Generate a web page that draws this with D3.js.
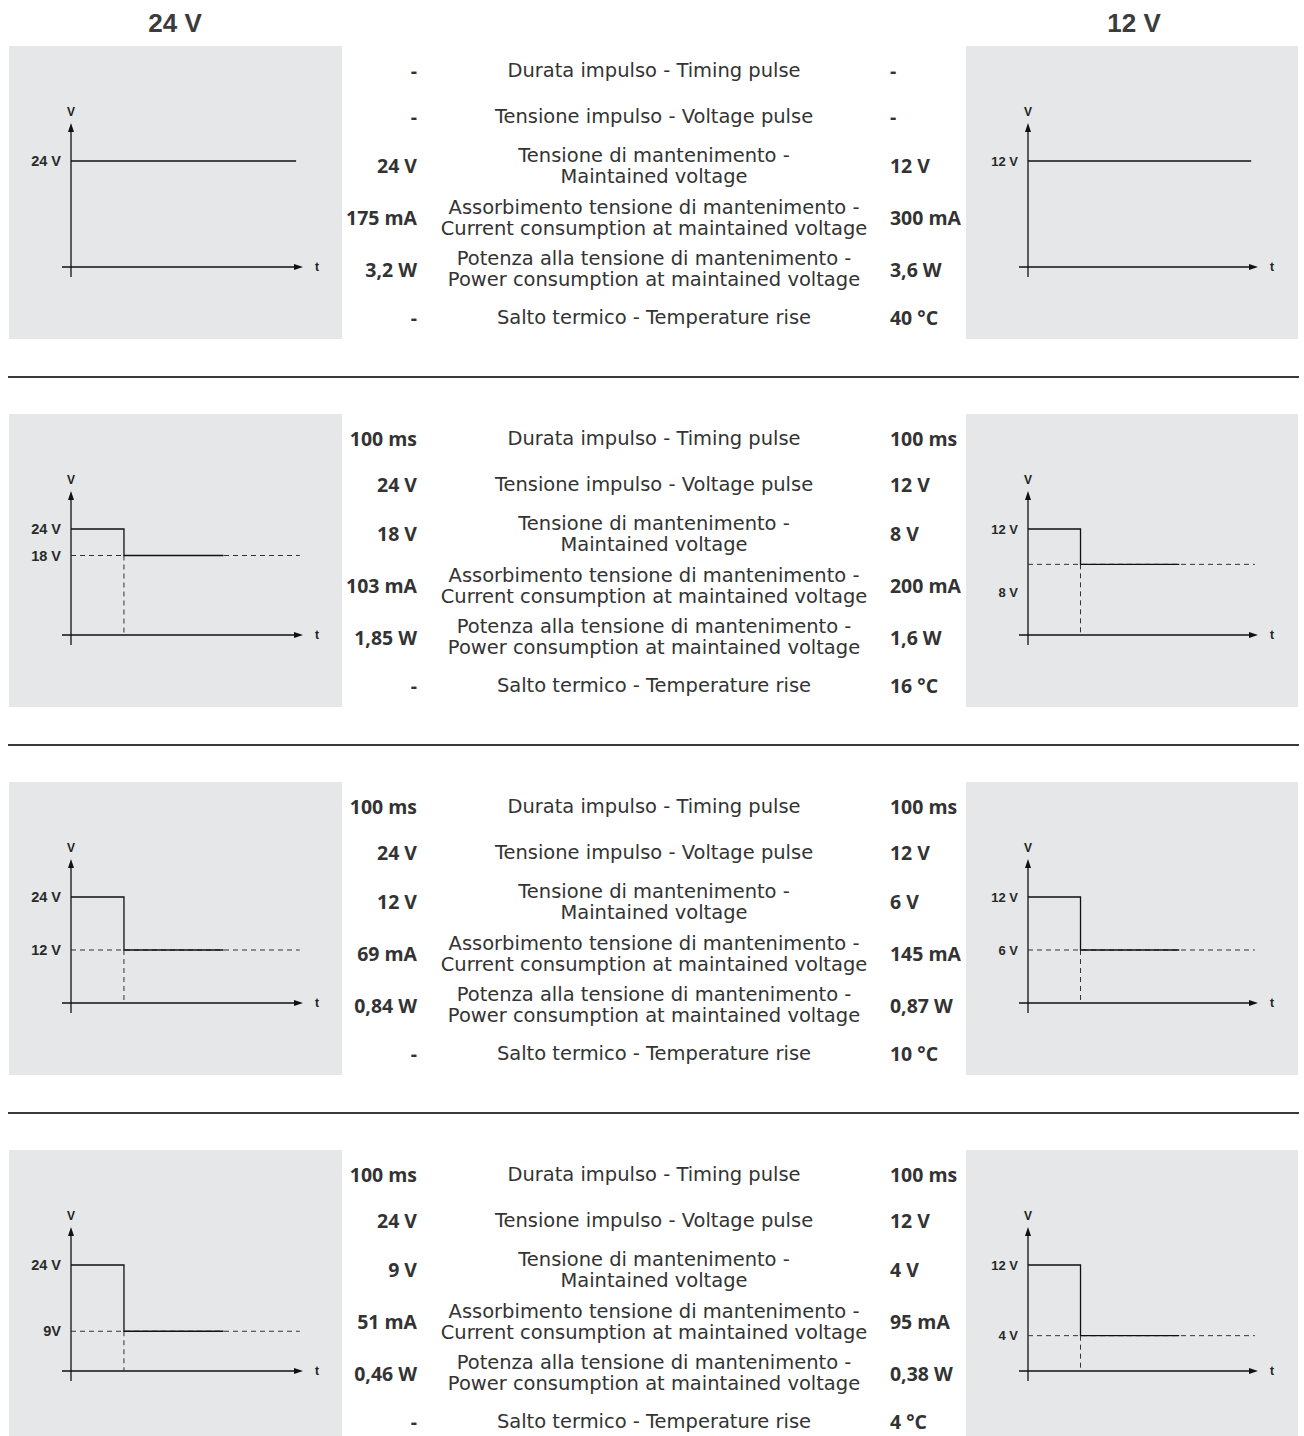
<!DOCTYPE html>
<html><head><meta charset="utf-8">
<script src="https://cdn.jsdelivr.net/npm/d3@7"></script>
<style>
html,body{margin:0;padding:0;background:#fff;}
svg{display:block;}
</style></head><body>
<svg id="chart" width="1304" height="1436"></svg>
<script>
// ---------------- DATA ----------------
const supplyHeaders = ["24 V", "12 V"];

const parameterLabels = [
  ["Durata impulso - Timing pulse"],
  ["Tensione impulso - Voltage pulse"],
  ["Tensione di mantenimento -", "Maintained voltage"],
  ["Assorbimento tensione di mantenimento -", "Current consumption at maintained voltage"],
  ["Potenza alla tensione di mantenimento -", "Power consumption at maintained voltage"],
  ["Salto termico - Temperature rise"]
];

const values24V = [
  ["-", "-", "24 V", "175 mA", "3,2 W", "-"],
  ["100 ms", "24 V", "18 V", "103 mA", "1,85 W", "-"],
  ["100 ms", "24 V", "12 V", "69 mA", "0,84 W", "-"],
  ["100 ms", "24 V", "9 V", "51 mA", "0,46 W", "-"]
];

const values12V = [
  ["-", "-", "12 V", "300 mA", "3,6 W", "40 °C"],
  ["100 ms", "12 V", "8 V", "200 mA", "1,6 W", "16 °C"],
  ["100 ms", "12 V", "6 V", "145 mA", "0,87 W", "10 °C"],
  ["100 ms", "12 V", "4 V", "95 mA", "0,38 W", "4 °C"]
];

// diagram values (volts / milliseconds)
const pulseDurationMs = [null, 100, 100, 100];
const pulseVoltage24 = [null, 24, 24, 24];
const holdVoltage24 = [24, 18, 12, 9];
const pulseVoltage12 = [null, 12, 12, 12];
const holdVoltage12 = [12, 8, 6, 4];
const levelLabels24 = [["24 V"], ["24 V", "18 V"], ["24 V", "12 V"], ["24 V", "9V"]];
const levelLabels12 = [["12 V"], ["12 V", "8 V"], ["12 V", "6 V"], ["12 V", "4 V"]];
// schematic time marks (ms) of the drawn waveforms
const steadyEndMs = 425;
const holdSolidEndMs = 288;
const referenceEndMs = 432;
const axisEndMs = 438;

// ---------------- LAYOUT ----------------
const ROW_TOP0 = 46, ROW_STEP = 368, PANEL_H = 293;
const PANEL_X = [9, 966], PANEL_W = [333, 332];
const AXIS_OFF = 62, PLOT_W = [232, 230];
const Y_ZERO = 221, Y_PEAK = 115, Y_TIP = 77, Y_BOTTOM = 231;
const TEXT_ROW_Y = [24, 70, 119.5, 171.5, 223, 271.5];
const LINE_GAP = 10.5;
const CENTER_X = 654, LEFT_VAL_X = 417, RIGHT_VAL_X = 890;
const TEXT_COLOR = "#333333";
const PANEL_FILL = "#e6e7e9";

const svg = d3.select("#chart");
const rowTop = i => ROW_TOP0 + ROW_STEP * i;

function fitSize(text, family, weight, target, base) {
  const t = svg.append("text").attr("font-family", family).attr("font-weight", weight)
    .attr("font-size", base).text(text);
  const w = t.node().getComputedTextLength();
  t.remove();
  return base * target / w;
}
const MID_FONT = "'DejaVu Sans', sans-serif";
const VAL_FONT = "'Open Sans', 'DejaVu Sans', sans-serif";
const labelSize = fitSize("Current consumption at maintained voltage", MID_FONT, "normal", 427, 18);
const valueSize = fitSize("175 mA", VAL_FONT, "bold", 71, 18);

// headers
svg.selectAll("text.header").data(supplyHeaders).join("text")
  .attr("class", "header")
  .attr("x", (d, i) => i === 0 ? 175 : 1134)
  .attr("y", 32)
  .attr("text-anchor", "middle")
  .attr("font-family", "'Liberation Sans', Arial, sans-serif")
  .attr("font-weight", "bold")
  .attr("font-size", 26)
  .attr("fill", "#3c3c3c")
  .text(d => d);

function drawPanel(row, side) {
  const px = PANEL_X[side], py = rowTop(row);
  const g = svg.append("g").attr("transform", `translate(${px},${py})`);
  g.append("rect").attr("width", PANEL_W[side]).attr("height", PANEL_H).attr("fill", PANEL_FILL);

  const peak = side === 0 ? 24 : 12;
  const pulseV = (side === 0 ? pulseVoltage24 : pulseVoltage12)[row];
  const holdV = (side === 0 ? holdVoltage24 : holdVoltage12)[row];
  const labels = (side === 0 ? levelLabels24 : levelLabels12)[row];
  const pulseMs = pulseDurationMs[row];

  const x = d3.scaleLinear().domain([0, axisEndMs]).range([AXIS_OFF, AXIS_OFF + PLOT_W[side]]);
  const y = d3.scaleLinear().domain([0, peak]).range([Y_ZERO, Y_PEAK]);
  const ax = x(0), y0 = y(0);
  const stroke = "#111";

  // axes
  g.append("line").attr("x1", ax - 9).attr("x2", x(axisEndMs) - 6).attr("y1", y0).attr("y2", y0)
    .attr("stroke", stroke).attr("stroke-width", 1.3);
  g.append("path").attr("d", `M${x(axisEndMs)},${y0}L${x(axisEndMs) - 9},${y0 - 3}L${x(axisEndMs) - 9},${y0 + 3}Z`)
    .attr("fill", stroke);
  g.append("line").attr("x1", ax).attr("x2", ax).attr("y1", Y_BOTTOM).attr("y2", Y_TIP + 6)
    .attr("stroke", stroke).attr("stroke-width", 1.3);
  g.append("path").attr("d", `M${ax},${Y_TIP}L${ax - 3},${Y_TIP + 9}L${ax + 3},${Y_TIP + 9}Z`)
    .attr("fill", stroke);

  const lblFont = "'Liberation Sans', Arial, sans-serif";
  g.append("text").attr("x", ax).attr("y", Y_TIP - 11).attr("text-anchor", "middle")
    .attr("dominant-baseline", "central").attr("font-family", lblFont).attr("font-weight", "bold")
    .attr("font-size", 12).attr("fill", "#222").text("V");
  g.append("text").attr("x", x(axisEndMs) + 14).attr("y", y0).attr("text-anchor", "middle")
    .attr("dominant-baseline", "central").attr("font-family", lblFont).attr("font-weight", "bold")
    .attr("font-size", 12).attr("fill", "#222").text("t");

  const lblSize = side === 0 ? 14.5 : 13;
  const levelVals = pulseV == null ? [holdV] : [pulseV, holdV];
  g.selectAll("text.level").data(levelVals).join("text")
    .attr("class", "level")
    .attr("x", ax - 10)
    .attr("y", (d, i) => y(d) + ((row === 1 && side === 1 && i === 1) ? 28 : 0))
    .attr("text-anchor", "end").attr("dominant-baseline", "central")
    .attr("font-family", lblFont).attr("font-weight", "bold").attr("font-size", lblSize)
    .attr("fill", "#2a2a2a")
    .text((d, i) => labels[i]);

  if (pulseV == null) {
    g.append("line").attr("x1", ax).attr("x2", x(steadyEndMs)).attr("y1", y(holdV)).attr("y2", y(holdV))
      .attr("stroke", stroke).attr("stroke-width", 1.3);
  } else {
    // dashed reference lines
    g.append("line").attr("x1", ax).attr("x2", x(referenceEndMs)).attr("y1", y(holdV)).attr("y2", y(holdV))
      .attr("stroke", "#333").attr("stroke-width", 1).attr("stroke-dasharray", "5,4");
    g.append("line").attr("x1", x(pulseMs)).attr("x2", x(pulseMs)).attr("y1", y(holdV)).attr("y2", y0)
      .attr("stroke", "#333").attr("stroke-width", 1).attr("stroke-dasharray", "5,4");
    // waveform
    const pts = [[0, pulseV], [pulseMs, pulseV], [pulseMs, holdV], [holdSolidEndMs, holdV]];
    g.append("path").attr("d", d3.line().x(d => x(d[0])).y(d => y(d[1]))(pts))
      .attr("fill", "none").attr("stroke", stroke).attr("stroke-width", 1.3);
  }
}

function drawMiddle(row) {
  const top = rowTop(row);
  const g = svg.append("g").attr("transform", `translate(0,${top})`);
  parameterLabels.forEach((lines, k) => {
    const cy = TEXT_ROW_Y[k];
    lines.forEach((ln, j) => {
      const off = lines.length === 1 ? 0 : (j === 0 ? -LINE_GAP : LINE_GAP);
      g.append("text").attr("x", CENTER_X).attr("y", cy + off)
        .attr("text-anchor", "middle").attr("dominant-baseline", "central")
        .attr("font-family", MID_FONT).attr("font-size", labelSize).attr("fill", TEXT_COLOR)
        .text(ln);
    });
    g.append("text").attr("x", LEFT_VAL_X).attr("y", cy)
      .attr("text-anchor", "end").attr("dominant-baseline", "central")
      .attr("font-family", VAL_FONT).attr("font-weight", "bold").attr("font-size", valueSize)
      .attr("fill", TEXT_COLOR).text(values24V[row][k]);
    g.append("text").attr("x", RIGHT_VAL_X).attr("y", cy)
      .attr("text-anchor", "start").attr("dominant-baseline", "central")
      .attr("font-family", VAL_FONT).attr("font-weight", "bold").attr("font-size", valueSize)
      .attr("fill", TEXT_COLOR).text(values12V[row][k]);
  });
}

for (let r = 0; r < 4; r++) {
  drawPanel(r, 0);
  drawPanel(r, 1);
  drawMiddle(r);
  if (r < 3) {
    svg.append("line").attr("x1", 8).attr("x2", 1299)
      .attr("y1", rowTop(r) + 331).attr("y2", rowTop(r) + 331)
      .attr("stroke", "#3a3a3a").attr("stroke-width", 2);
  }
}
</script>
</body></html>
